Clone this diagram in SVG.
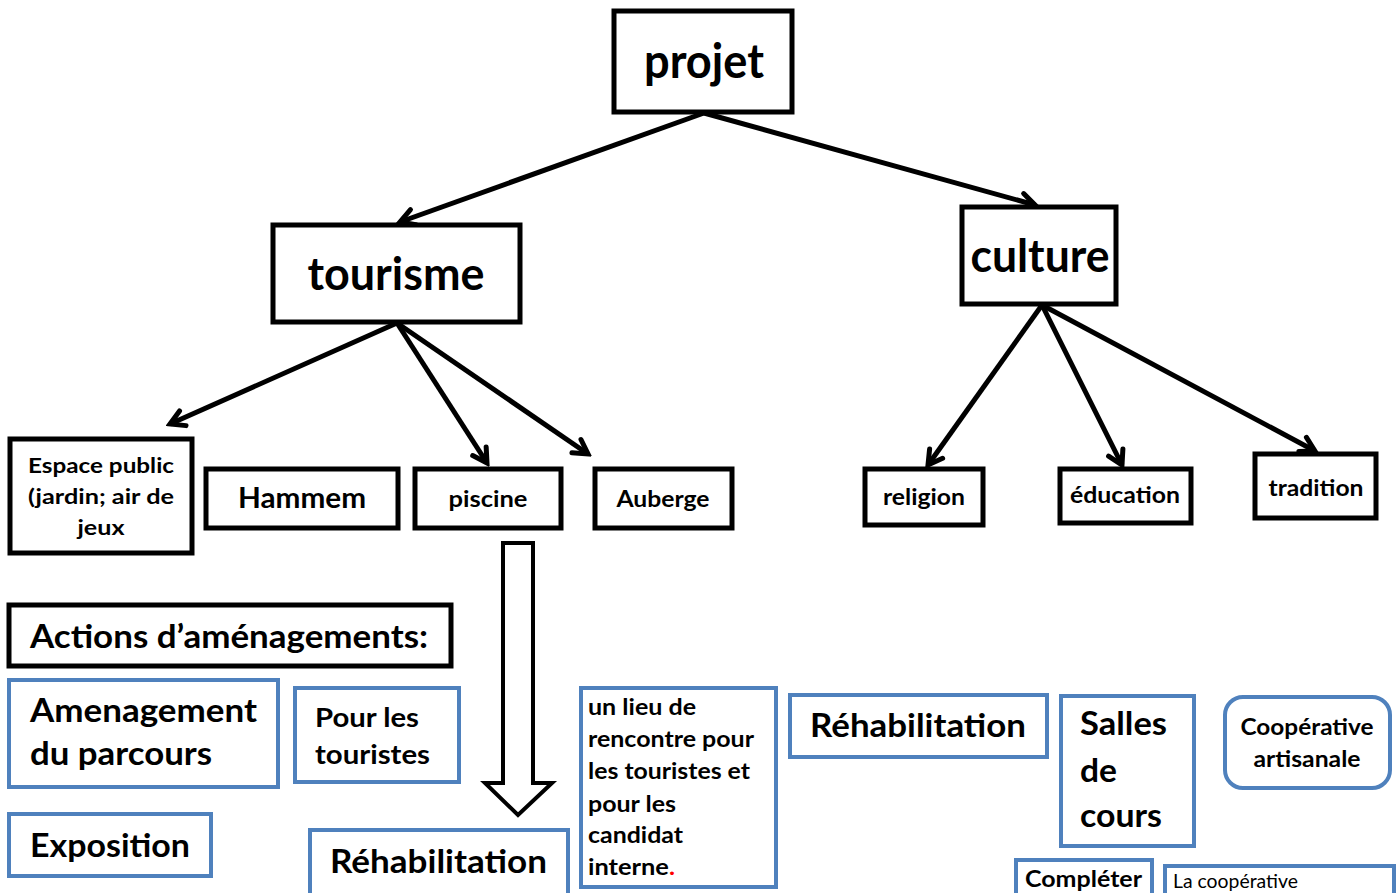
<svg xmlns="http://www.w3.org/2000/svg" width="1398" height="893" viewBox="0 0 1398 893">
<defs>
<style>
.bk{fill:#fff;stroke:#000;stroke-width:5}
.bl{fill:#fff;stroke:#4F81BD;stroke-width:4}
text{font-family:Lato,"Liberation Sans",sans-serif;font-weight:bold;fill:#000}
.c{text-anchor:middle}
.cn{fill:none;stroke:#000;stroke-width:5}
</style>
<marker id="ah" viewBox="-18 -12 22 24" refX="0" refY="0" markerWidth="22" markerHeight="24" markerUnits="userSpaceOnUse" orient="auto">
<path d="M-14,-8 L0,0 L-14,8" fill="none" stroke="#000" stroke-width="5" stroke-linecap="round" stroke-linejoin="miter"/>
</marker>
</defs>
<rect width="1398" height="893" fill="#fff"/>
<g id="connectors">
<line class="cn" x1="704" y1="113" x2="400" y2="222" marker-end="url(#ah)"/>
<line class="cn" x1="704" y1="113" x2="1035" y2="205" marker-end="url(#ah)"/>
<line class="cn" x1="397" y1="323" x2="170" y2="424" marker-end="url(#ah)"/>
<line class="cn" x1="397" y1="323" x2="487" y2="463" marker-end="url(#ah)"/>
<line class="cn" x1="397" y1="323" x2="588" y2="454" marker-end="url(#ah)"/>
<line class="cn" x1="1042" y1="305" x2="928" y2="465" marker-end="url(#ah)"/>
<line class="cn" x1="1042" y1="305" x2="1122" y2="465" marker-end="url(#ah)"/>
<line class="cn" x1="1042" y1="305" x2="1315" y2="451" marker-end="url(#ah)"/>
<polygon points="503,543 533,543 533,783 552,783 518,815 485,783 503,783" fill="#fff" stroke="#000" stroke-width="4"/>
</g>
<g id="projet"><rect class="bk" x="614" y="11" width="178" height="101"/><text class="c" x="704" y="78" font-size="48" textLength="120" lengthAdjust="spacingAndGlyphs">projet</text></g>
<g id="tourisme"><rect class="bk" x="273" y="225" width="247" height="97"/><text class="c" x="396" y="290" font-size="46" textLength="177" lengthAdjust="spacingAndGlyphs">tourisme</text></g>
<g id="culture"><rect class="bk" x="962" y="207" width="154" height="97"/><text class="c" x="1040" y="272" font-size="46" textLength="139" lengthAdjust="spacingAndGlyphs">culture</text></g>
<g id="espace"><rect class="bk" x="10" y="439" width="182" height="114"/>
<text class="c" x="101" y="473" font-size="21" textLength="146" lengthAdjust="spacingAndGlyphs">Espace public</text>
<text class="c" x="101" y="504" font-size="21" textLength="146" lengthAdjust="spacingAndGlyphs">(jardin; air de</text>
<text class="c" x="101" y="535" font-size="21" textLength="47" lengthAdjust="spacingAndGlyphs">jeux</text></g>
<g id="hammem"><rect class="bk" x="206" y="469" width="192" height="59"/><text class="c" x="302" y="508" font-size="28" textLength="128" lengthAdjust="spacingAndGlyphs">Hammem</text></g>
<g id="piscine"><rect class="bk" x="415" y="469" width="146" height="59"/><text class="c" x="488" y="507" font-size="23" textLength="79" lengthAdjust="spacingAndGlyphs">piscine</text></g>
<g id="auberge"><rect class="bk" x="595" y="469" width="137" height="59"/><text class="c" x="663" y="507" font-size="23" textLength="93" lengthAdjust="spacingAndGlyphs">Auberge</text></g>
<g id="religion"><rect class="bk" x="865" y="469" width="118" height="56"/><text class="c" x="924" y="505" font-size="23" textLength="82" lengthAdjust="spacingAndGlyphs">religion</text></g>
<g id="education"><rect class="bk" x="1060" y="469" width="131" height="54"/><text class="c" x="1125" y="503" font-size="23" textLength="110" lengthAdjust="spacingAndGlyphs">éducation</text></g>
<g id="tradition"><rect class="bk" x="1255" y="454" width="121" height="64"/><text class="c" x="1316" y="496" font-size="23" textLength="95" lengthAdjust="spacingAndGlyphs">tradition</text></g>
<g id="actions"><rect class="bk" x="9" y="605" width="442" height="61"/><text x="30" y="648" font-size="33" textLength="398" lengthAdjust="spacingAndGlyphs">Actions d’aménagements:</text></g>
<g id="amenagement"><rect class="bl" x="9" y="680" width="269" height="107"/>
<text x="30" y="722" font-size="33" textLength="227" lengthAdjust="spacingAndGlyphs">Amenagement</text>
<text x="30" y="765" font-size="33" textLength="182" lengthAdjust="spacingAndGlyphs">du parcours</text></g>
<g id="pourles"><rect class="bl" x="295" y="688" width="164" height="94"/>
<text x="315" y="727" font-size="27" textLength="104" lengthAdjust="spacingAndGlyphs">Pour les</text>
<text x="315" y="764" font-size="27" textLength="115" lengthAdjust="spacingAndGlyphs">touristes</text></g>
<g id="exposition"><rect class="bl" x="9" y="814" width="202" height="62"/><text x="30" y="857" font-size="33" textLength="160" lengthAdjust="spacingAndGlyphs">Exposition</text></g>
<g id="rehab1"><rect class="bl" x="310" y="830" width="258" height="75"/><text x="330" y="873" font-size="33" textLength="217" lengthAdjust="spacingAndGlyphs">Réhabilitation</text></g>
<g id="lieu"><rect class="bl" x="581" y="688" width="195" height="199"/>
<text x="588" y="715" font-size="22" textLength="108" lengthAdjust="spacingAndGlyphs">un lieu de</text>
<text x="588" y="747" font-size="22" textLength="166" lengthAdjust="spacingAndGlyphs">rencontre pour</text>
<text x="588" y="779" font-size="22" textLength="162" lengthAdjust="spacingAndGlyphs">les touristes et</text>
<text x="588" y="812" font-size="22" textLength="88" lengthAdjust="spacingAndGlyphs">pour les</text>
<text x="588" y="843" font-size="22" textLength="95" lengthAdjust="spacingAndGlyphs">candidat</text>
<text x="588" y="875" font-size="22" textLength="87" lengthAdjust="spacingAndGlyphs">interne<tspan fill="#FF0000">.</tspan></text></g>
<g id="rehab2"><rect class="bl" x="790" y="695" width="257" height="62"/><text x="810" y="737" font-size="33" textLength="216" lengthAdjust="spacingAndGlyphs">Réhabilitation</text></g>
<g id="salles"><rect class="bl" x="1061" y="696" width="133" height="150"/>
<text x="1080" y="735" font-size="33" textLength="87" lengthAdjust="spacingAndGlyphs">Salles</text>
<text x="1080" y="782" font-size="33" textLength="37" lengthAdjust="spacingAndGlyphs">de</text>
<text x="1080" y="827" font-size="33" textLength="82" lengthAdjust="spacingAndGlyphs">cours</text></g>
<g id="cooperative"><rect class="bl" x="1225" y="697" width="165" height="91" rx="18" ry="18"/>
<text class="c" x="1307" y="735" font-size="23" textLength="133" lengthAdjust="spacingAndGlyphs">Coopérative</text>
<text class="c" x="1307" y="767" font-size="23" textLength="107" lengthAdjust="spacingAndGlyphs">artisanale</text></g>
<g id="completer"><rect class="bl" x="1016" y="860" width="136" height="45"/><text x="1025" y="887" font-size="23" textLength="117" lengthAdjust="spacingAndGlyphs">Compléter</text></g>
<g id="lacoop"><rect class="bl" x="1165" y="866" width="229" height="40"/><text x="1173" y="888" font-size="20" style="font-weight:normal" textLength="125" lengthAdjust="spacingAndGlyphs">La coopérative</text></g>
</svg>
